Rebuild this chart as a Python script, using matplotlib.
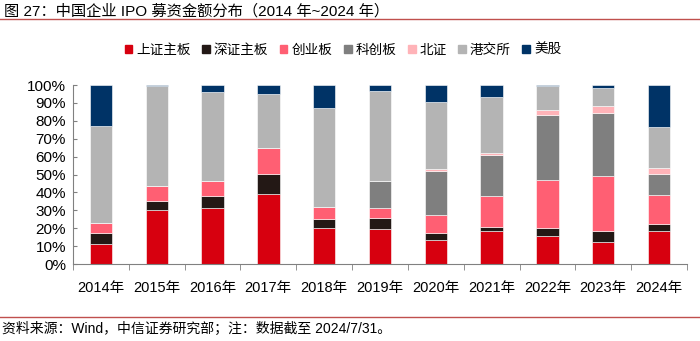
import matplotlib
matplotlib.use("Agg")
import matplotlib.pyplot as plt
import numpy as np
from matplotlib.lines import Line2D

plt.rcParams['font.family'] = ['Liberation Sans', 'Noto Sans CJK SC', 'DejaVu Sans']

years = ['2014年', '2015年', '2016年', '2017年', '2018年', '2019年', '2020年', '2021年', '2022年', '2023年', '2024年']
series_names = ['上证主板', '深证主板', '创业板', '科创板', '北证', '港交所', '美股']
sh_main = [11.0, 30.2, 31.5, 39.1, 20.3, 19.6, 13.4, 18.6, 15.6, 12.3, 18.6]
sz_main = [6.5, 5.2, 6.7, 11.0, 5.0, 5.9, 3.9, 2.3, 4.5, 6.3, 3.9]
chinext = [5.6, 8.4, 8.0, 14.9, 6.7, 5.8, 9.9, 17.1, 26.6, 30.6, 16.2]
star = [0.0, 0.0, 0.0, 0.0, 0.0, 15.3, 24.6, 22.9, 36.7, 35.3, 11.8]
bse = [0.0, 0.0, 0.0, 0.0, 0.0, 0.0, 1.3, 1.1, 2.6, 4.0, 3.1]
hkex = [54.2, 55.6, 50.1, 30.2, 55.3, 50.2, 37.6, 31.1, 13.3, 10.0, 23.1]
us = [22.7, 0.6, 3.7, 4.8, 12.7, 3.2, 9.3, 6.9, 0.7, 1.5, 23.3]
colors = ['#D7000F', '#231815', '#FF5F73', '#7F7F7F', '#FFB3B8', '#B4B4B4', '#003366']

fig = plt.figure(figsize=(7.0, 3.41), dpi=100)
ax = fig.add_axes([0.1043, 0.2258, 0.8771, 0.5249])

x = np.arange(len(years))
bottom = np.zeros(len(years))
all_series = [sh_main, sz_main, chinext, star, bse, hkex, us]
for name, vals, c in zip(series_names, all_series, colors):
    v = np.array(vals)
    ax.bar(x, v, 0.4, bottom=bottom, color=c, edgecolor='white', linewidth=0.4, label=name)
    bottom += v

ax.set_xlim(-0.5, len(years) - 0.5)
ax.set_ylim(0, 100)
ax.set_yticks(np.arange(0, 101, 10))
ax.set_yticklabels([f'{v}%' for v in range(0, 101, 10)], fontsize=11)
ax.set_xticks(x)
ax.set_xticklabels(years, fontsize=10.5)
ax.set_xticks(np.arange(-0.5, len(years)), minor=True)
ax.tick_params(axis='x', which='major', length=0, pad=12)
ax.tick_params(axis='x', which='minor', length=4, color='#808080', direction='out')
ax.tick_params(axis='y', length=3, direction='in', color='#808080', pad=5)
for s in ['top', 'right']:
    ax.spines[s].set_visible(False)
for s in ['left', 'bottom']:
    ax.spines[s].set_color('#808080')
    ax.spines[s].set_linewidth(0.8)

handles = [plt.Rectangle((0, 0), 1, 1, color=c) for c in colors]
fig.legend(handles, series_names, loc='center', bbox_to_anchor=(0.49, 0.853), ncol=7,
           frameon=False, fontsize=9.8, handlelength=0.55, handleheight=0.55,
           handletextpad=0.3, columnspacing=0.85)

fig.text(0.006, 0.968, '图 27：中国企业 IPO 募资金额分布（2014 年~2024 年）', fontsize=11, va='center', ha='left')
fig.add_artist(Line2D([0, 1], [0.944, 0.944], color='#C0504D', linewidth=1.0, transform=fig.transFigure))
fig.add_artist(Line2D([0, 1], [0.07, 0.07], color='#C0504D', linewidth=1.0, transform=fig.transFigure))
fig.text(0.003, 0.035, '资料来源：Wind，中信证券研究部；注：数据截至 2024/7/31。', fontsize=10, va='center', ha='left')

fig.savefig('out.png', dpi=100)
